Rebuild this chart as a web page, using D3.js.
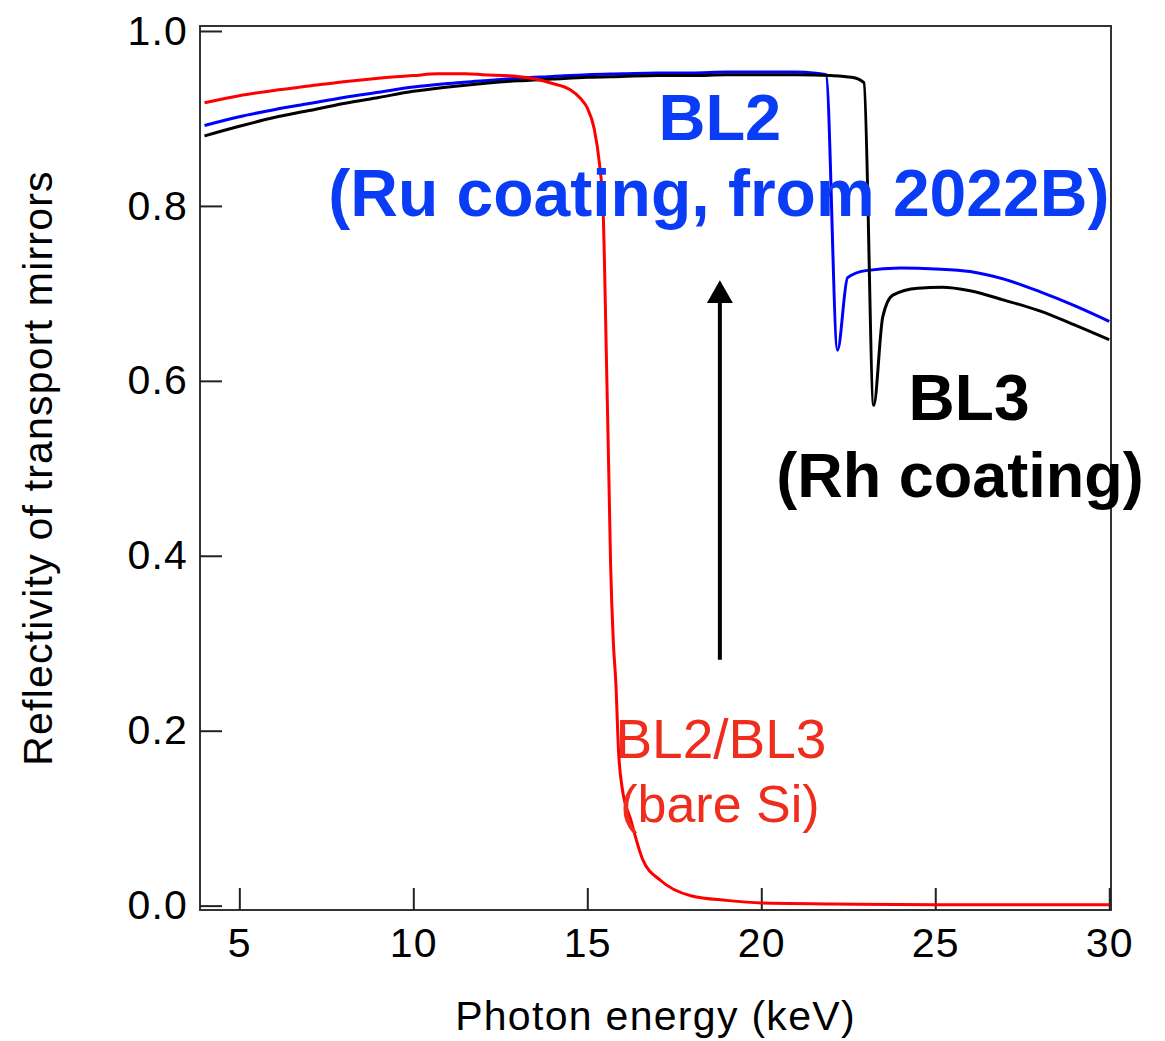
<!DOCTYPE html>
<html lang="en">
<head>
  <meta charset="UTF-8">
  <title>Reflectivity of transport mirrors</title>
  <script src="https://d3js.org/d3.v7.min.js"></script>
  <style>
    body { margin: 0; background: #fff; }
    svg { display: block; font-family: "Liberation Sans", Arial, Helvetica, sans-serif; }
  </style>
</head>
<body>
  <svg width="1165" height="1041"></svg>

  <script>
    // tick values
    const energyTicks = [5, 10, 15, 20, 25, 30];
    const reflTicks = [0, 0.2, 0.4, 0.6, 0.8, 1.0];

    // [photon energy (keV), reflectivity]
    const bareSi = [
      [4, 0.918], [5, 0.926], [6, 0.932], [7, 0.937], [8, 0.942], [9, 0.946],
      [10, 0.949], [10.7, 0.951], [11.5, 0.951], [12, 0.950], [13, 0.948],
      [13.5, 0.945], [14, 0.940], [14.5, 0.933], [14.8, 0.923], [15.0, 0.912],
      [15.2, 0.888], [15.35, 0.848], [15.45, 0.80], [15.55, 0.625], [15.62, 0.49],
      [15.67, 0.39], [15.75, 0.30], [15.82, 0.255], [15.9, 0.175], [16.0, 0.135],
      [16.25, 0.098], [16.6, 0.052], [17.1, 0.029], [18, 0.011], [19, 0.006],
      [20, 0.003], [22, 0.002], [25, 0.001], [30, 0.001]
    ];
    const bl2Ru = [
      [4, 0.892], [5, 0.902], [6, 0.910], [7, 0.917], [8, 0.924], [9, 0.930],
      [10, 0.936], [11, 0.940], [12, 0.943], [13, 0.946], [14, 0.948], [15, 0.950],
      [16, 0.951], [17, 0.952], [18, 0.952], [19, 0.953], [20, 0.953], [21, 0.953],
      [21.5, 0.952], [21.86, 0.950], [22.19, 0.635], [22.48, 0.718], [23.0, 0.726],
      [24.0, 0.729], [25.0, 0.728], [26.0, 0.725], [27.0, 0.716], [28.0, 0.702],
      [29.0, 0.686], [30.0, 0.668]
    ];
    const bl3Rh = [
      [4, 0.880], [5, 0.891], [6, 0.901], [7, 0.909], [8, 0.917], [9, 0.924],
      [10, 0.931], [11, 0.936], [12, 0.940], [13, 0.943], [14, 0.945], [15, 0.947],
      [16, 0.948], [17, 0.949], [18, 0.949], [19, 0.950], [20, 0.950], [21, 0.950],
      [22, 0.949], [22.6, 0.947], [22.95, 0.941], [23.23, 0.572], [23.49, 0.673],
      [23.78, 0.698], [24.5, 0.706], [25.2, 0.707], [26, 0.703], [27, 0.692],
      [28, 0.680], [29, 0.664], [30, 0.647]
    ];

    const svg = d3.select("svg");

    // plot box
    const plotLeft = 200, plotRight = 1111, plotTop = 26, plotBottom = 910;

    const x = d3.scaleLinear().domain([3.87, 30.05]).range([plotLeft, plotRight]);
    const y = d3.scaleLinear().domain([-0.005, 1.0057]).range([plotBottom, plotTop]);

    // frame
    svg.append("rect")
      .attr("x", plotLeft).attr("y", plotTop)
      .attr("width", plotRight - plotLeft).attr("height", plotBottom - plotTop)
      .attr("fill", "none")
      .attr("stroke", "#333")
      .attr("stroke-width", 2);

    // y axis, ticks pointing inward
    const yAxis = svg.append("g")
      .attr("transform", "translate(" + plotLeft + ",0)")
      .call(d3.axisLeft(y).tickValues(reflTicks).tickFormat(d3.format(".1f"))
        .tickSizeInner(-22).tickSizeOuter(0).tickPadding(12));
    yAxis.select(".domain").remove();
    yAxis.selectAll("line").attr("stroke", "#222").attr("stroke-width", 2);
    yAxis.selectAll("text")
      .attr("font-family", "'Liberation Sans', Arial, sans-serif")
      .style("font-size", "41px").style("letter-spacing", "1.2px").attr("fill", "#000");

    // x axis
    const xAxis = svg.append("g")
      .attr("transform", "translate(0," + plotBottom + ")")
      .call(d3.axisBottom(x).tickValues(energyTicks)
        .tickSizeInner(-22).tickSizeOuter(0).tickPadding(18));
    xAxis.select(".domain").remove();
    xAxis.selectAll("line").attr("stroke", "#222").attr("stroke-width", 2);
    xAxis.selectAll("text")
      .attr("font-family", "'Liberation Sans', Arial, sans-serif")
      .style("font-size", "41px").style("letter-spacing", "1.2px").attr("fill", "#000");

    // axis titles
    svg.append("text")
      .attr("x", (plotLeft + plotRight) / 2)
      .attr("y", 1030)
      .attr("text-anchor", "middle")
      .style("font-size", "41px")
      .style("letter-spacing", "1.3px")
      .text("Photon energy (keV)");

    svg.append("text")
      .attr("transform", "translate(52," + (plotTop + plotBottom) / 2 + ") rotate(-90)")
      .attr("text-anchor", "middle")
      .style("font-size", "41px")
      .style("letter-spacing", "1.2px")
      .text("Reflectivity of transport mirrors");

    // curves
    const line = d3.line()
      .x(d => x(d[0]))
      .y(d => y(d[1]))
      .curve(d3.curveMonotoneX);

    const series = [
      { data: bl2Ru, color: "#0000ff" },
      { data: bl3Rh, color: "#000000" },
      { data: bareSi, color: "#ff0000" }
    ];

    svg.selectAll(".curve")
      .data(series)
      .enter().append("path")
      .attr("class", "curve")
      .attr("d", d => line(d.data))
      .attr("fill", "none")
      .attr("stroke", d => d.color)
      .attr("stroke-width", 3)
      .attr("stroke-linejoin", "round");

    // arrow (shaft + head)
    const ax = x(18.81);
    svg.append("line")
      .attr("x1", ax).attr("x2", ax)
      .attr("y1", y(0.281)).attr("y2", y(0.689))
      .attr("stroke", "#000")
      .attr("stroke-width", 4);
    svg.append("path")
      .attr("d", "M" + (ax - 13) + "," + y(0.689) + " L" + ax + "," + y(0.715) +
        " L" + (ax + 13) + "," + y(0.689) + " Z")
      .attr("fill", "#000");

    // annotations
    const labels = [
      { t: "BL2", e: 18.81, v: 0.875, size: 65, weight: "bold", color: "#0a3cf6" },
      { t: "(Ru coating, from 2022B)", e: 18.78, v: 0.789, size: 66, weight: "bold", color: "#0a3cf6" },
      { t: "BL3", e: 25.97, v: 0.555, size: 64, weight: "bold", color: "#000" },
      { t: "(Rh coating)", e: 25.71, v: 0.467, size: 63, weight: "bold", color: "#000" },
      { t: "BL2/BL3", e: 18.84, v: 0.169, size: 55, weight: "normal", color: "#ee2d1c" },
      { t: "(bare Si)", e: 18.81, v: 0.096, size: 52, weight: "normal", color: "#ee2d1c" }
    ];

    svg.selectAll(".note")
      .data(labels)
      .enter().append("text")
      .attr("class", "note")
      .attr("x", d => x(d.e))
      .attr("y", d => y(d.v))
      .attr("text-anchor", "middle")
      .style("font-size", d => d.size + "px")
      .style("font-weight", d => d.weight)
      .attr("fill", d => d.color)
      .text(d => d.t);
  </script>
</body>
</html>
